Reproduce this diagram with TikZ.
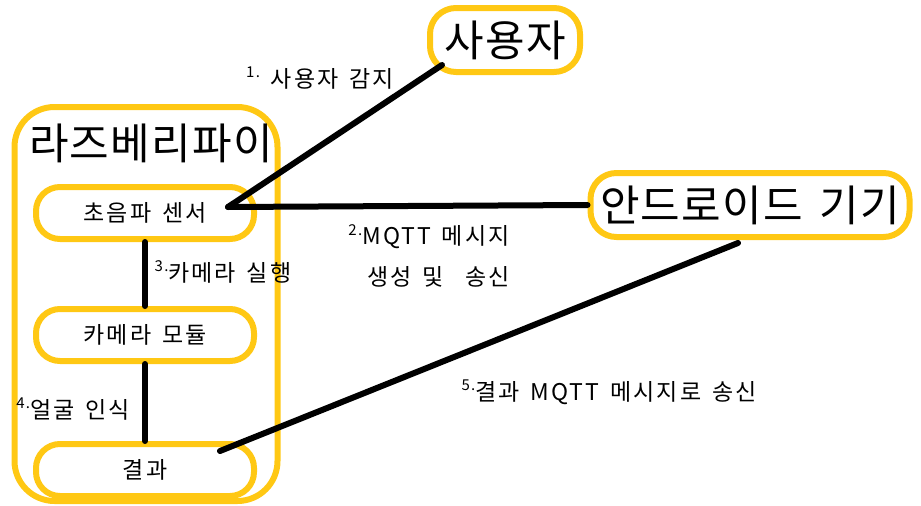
\documentclass[tikz,border=0pt]{standalone}
\usepackage{fontspec}
\setmainfont{Noto Sans CJK KR}
\newfontfamily\labelfont[LetterSpace=9,WordSpace=1.5]{Noto Sans CJK KR}
\newfontfamily\titlefont[LetterSpace=3,WordSpace=1.5]{Noto Sans CJK KR}
\usetikzlibrary{calc}
\definecolor{piyellow}{RGB}{255,200,20}
\newcommand{\stepno}[1]{\raisebox{0.42em}{\fontsize{15}{15}\selectfont #1.}}

\begin{document}
\begin{tikzpicture}[x=1pt,y=-1pt,
    box/.style={draw=piyellow,line width=6pt,rounded corners=24pt,minimum width=218pt,minimum height=52pt,inner sep=0pt,font=\labelfont\fontsize{23}{26}\selectfont},
    bigbox/.style={draw=piyellow,line width=6pt,rounded corners=26pt,minimum height=64pt,inner sep=0pt,font=\titlefont\fontsize{43}{46}\selectfont},
    link/.style={line width=6pt,line cap=round},
    lbl/.style={inner sep=0pt,font=\labelfont\fontsize{23}{41}\selectfont}]
				\useasboundingbox (0,0) rectangle (921,506);
				\node[draw=piyellow,line width=6pt,rounded corners=40pt,minimum width=263pt,minimum height=394pt] (pi) at (146,304) {};
				\node[inner sep=0pt,font=\titlefont\fontsize{43}{46}\selectfont] (pititle) at (151,143) {라즈베리파이};
				\node[box] (sensor) at (145,213) {초음파 센서};
				\node[box] (camera) at (145,335) {카메라 모듈};
				\node[box] (result) at (145,470) {결과};
				\node[bigbox,minimum width=150pt] (user) at (505,40) {사용자};
				\node[bigbox,minimum width=319pt] (android) at (750,205) {안드로이드 기기};
				\coordinate (sensorpin) at ($(sensor.east)+(-29,-6)$);
				\coordinate (resultpin) at ($(result.north east)+(-37,10)$);
				\draw[link] (sensorpin) -- ($(user.south west)+(15,-10)$);
				\draw[link] (sensorpin) -- (android.west);
				\draw[link] (sensor.south) -- (camera.north);
				\draw[link] (camera.south) -- (result.north);
				\draw[link] (resultpin) -- ($(android.south)+(-12,3)$);
				\node[lbl] (detect) at (320,78) {\stepno{1} 사용자 감지};
				\node[lbl,align=right] (publish) at (429,256) {\stepno{2}MQTT 메시지\\생성 및~~송신};
				\node[lbl] (launch) at (223,272) {\stepno{3}카메라 실행};
				\node[lbl] (face) at (73,409) {\stepno{4}얼굴 인식};
				\node[lbl] (reply) at (609,392) {\stepno{5}결과 MQTT 메시지로 송신};
\end{tikzpicture}
\end{document}
